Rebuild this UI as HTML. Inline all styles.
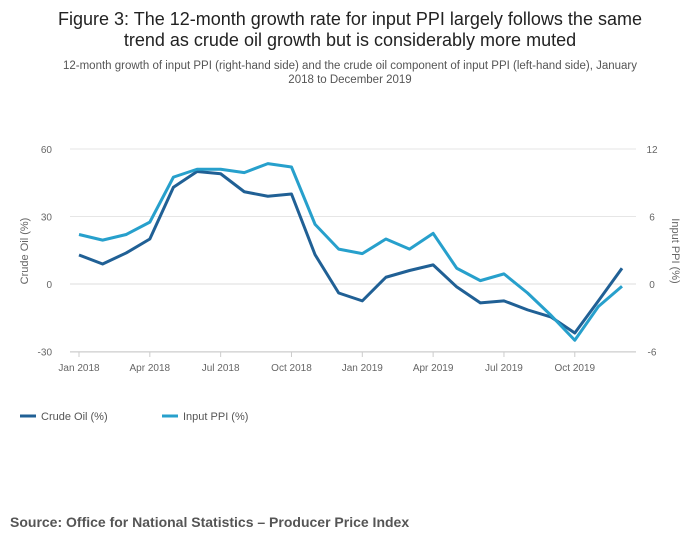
<!DOCTYPE html>
<html><head><meta charset="utf-8"><style>
body{margin:0;background:#fff;font-family:"Liberation Sans",sans-serif;}
</style></head><body>
<svg width="700" height="549" xmlns="http://www.w3.org/2000/svg" id="c">
<text x="350" y="25" text-anchor="middle" font-size="18" fill="#222">Figure 3: The 12-month growth rate for input PPI largely follows the same</text>
<text x="350" y="46" text-anchor="middle" font-size="18" fill="#222">trend as crude oil growth but is considerably more muted</text>
<text x="350" y="69" text-anchor="middle" font-size="11.5" fill="#555">12-month growth of input PPI (right-hand side) and the crude oil component of input PPI (left-hand side), January</text>
<text x="350" y="83" text-anchor="middle" font-size="11.5" fill="#555">2018 to December 2019</text>
<g id="grid"></g><g id="axes"></g><g id="series"></g>
<text transform="translate(28,251) rotate(-90)" text-anchor="middle" font-size="11" fill="#666">Crude Oil (%)</text>
<text transform="translate(672,251) rotate(90)" text-anchor="middle" font-size="11" fill="#666">Input PPI (%)</text>
<g><line x1="20" y1="416" x2="36" y2="416" stroke="#206095" stroke-width="3"/><text x="41" y="420" font-size="11" fill="#555">Crude Oil (%)</text></g>
<g><line x1="162" y1="416" x2="178" y2="416" stroke="#27a0cc" stroke-width="3"/><text x="183" y="420" font-size="11" fill="#555">Input PPI (%)</text></g>
<text x="10" y="527" font-size="14" font-weight="bold" fill="#555">Source: Office for National Statistics – Producer Price Index</text>
</svg>
<script>
const months=["Jan 2018","Feb 2018","Mar 2018","Apr 2018","May 2018","Jun 2018","Jul 2018","Aug 2018","Sep 2018","Oct 2018","Nov 2018","Dec 2018","Jan 2019","Feb 2019","Mar 2019","Apr 2019","May 2019","Jun 2019","Jul 2019","Aug 2019","Sep 2019","Oct 2019","Nov 2019","Dec 2019"];
const crudeOil=[12.9,8.9,13.8,20,43,50,49,41,39,40,13,-4,-7.5,3,6,8.5,-1.3,-8.4,-7.5,-11.5,-14.7,-21.8,-7.5,7];
const inputPPI=[4.4,3.9,4.4,5.5,9.5,10.2,10.2,9.9,10.7,10.4,5.3,3.1,2.7,4,3.1,4.5,1.4,0.3,0.9,-0.8,-2.8,-5,-2,-0.2];
const leftTicks=[60,30,0,-30];
const rightTicks=[12,6,0,-6];
const xTickLabels=["Jan 2018","Apr 2018","Jul 2018","Oct 2018","Jan 2019","Apr 2019","Jul 2019","Oct 2019"];
const xTickIdx=[0,3,6,9,12,15,18,21];
const NS="http://www.w3.org/2000/svg";
const x=i=>79+i*(622-79)/23;
const yL=v=>284-v*(284-149)/60;
const yR=v=>284-v*(284-149)/12;
function mk(t,a,p){const e=document.createElementNS(NS,t);for(const k in a)e.setAttribute(k,a[k]);p.appendChild(e);return e;}
const grid=document.getElementById('grid'),axes=document.getElementById('axes'),ser=document.getElementById('series');
leftTicks.forEach((v,i)=>{
 const g=mk('line',{x1:70,x2:636,y1:yL(v),y2:yL(v),stroke:v===0?'#ddd':'#e6e6e6'},grid);
 
 
 const t=mk('text',{x:52,y:yL(v)+4,'text-anchor':'end','font-size':10,fill:'#666'},axes);t.textContent=v;
 
 
 const r=mk('text',{x:652,y:yR(rightTicks[i])+4,'text-anchor':'middle','font-size':10,fill:'#666'},axes);r.textContent=rightTicks[i];
 
 
});
const base=mk('line',{x1:70,x2:636,y1:352,y2:352,stroke:'#ccc'},axes);


xTickIdx.forEach((idx,i)=>{
 const tk=mk('line',{x1:x(idx),x2:x(idx),y1:352,y2:357,stroke:'#ccc'},axes);
 
 
 const t=mk('text',{x:x(idx),y:371,'text-anchor':'middle','font-size':10,fill:'#666'},axes);t.textContent=xTickLabels[i];
 
 
});
const p1=mk('polyline',{points:crudeOil.map((v,i)=>x(i)+','+yL(v)).join(' '),fill:'none',stroke:'#206095','stroke-width':3,'stroke-linejoin':'round'},ser);


const p2=mk('polyline',{points:inputPPI.map((v,i)=>x(i)+','+yR(v)).join(' '),fill:'none',stroke:'#27a0cc','stroke-width':3,'stroke-linejoin':'round'},ser);


</script>
</body></html>
